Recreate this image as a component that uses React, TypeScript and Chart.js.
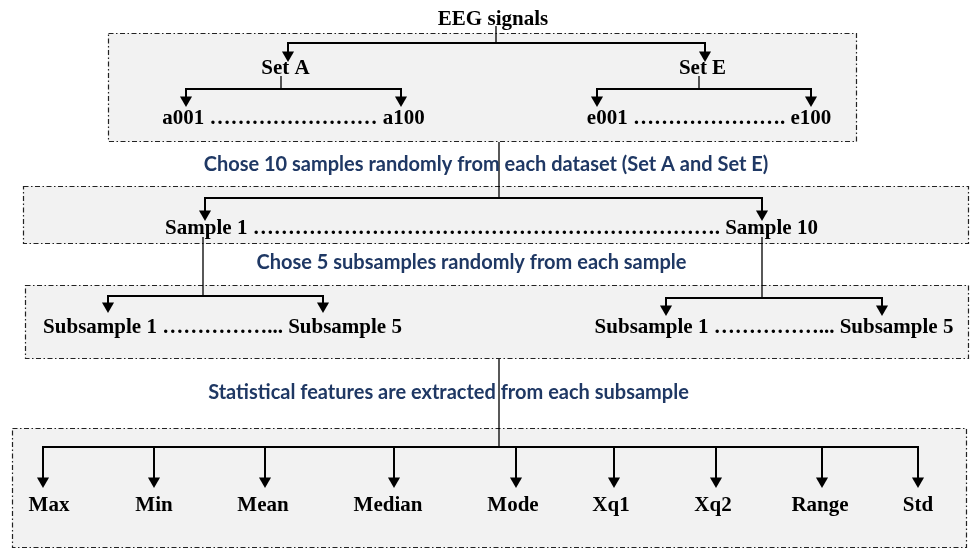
import { useEffect, useRef } from "react";
import { Chart, registerables } from "chart.js";

Chart.register(...registerables);

// ---------- text content ----------
const rootLabel = "EEG signals";
const setLabels = ["Set A", "Set E"];
const recordLabels = [
  "a001 \u2026\u2026\u2026\u2026\u2026\u2026\u2026\u2026 a100",
  "e001 \u2026\u2026\u2026\u2026\u2026\u2026\u2026. e100",
];
const sampleLabel =
  "Sample 1 \u2026\u2026\u2026\u2026\u2026\u2026\u2026\u2026\u2026\u2026\u2026\u2026\u2026\u2026\u2026\u2026\u2026\u2026\u2026\u2026\u2026\u2026. Sample 10";
const subsampleLabels = [
  "Subsample 1 \u2026\u2026\u2026\u2026\u2026... Subsample 5",
  "Subsample 1 \u2026\u2026\u2026\u2026\u2026... Subsample 5",
];
const featureLabels = ["Max", "Min", "Mean", "Median", "Mode", "Xq1", "Xq2", "Range", "Std"];
const stepCaptions = [
  "Chose 10 samples randomly from each dataset (Set A and Set E)",
  "Chose 5 subsamples randomly from each sample",
  "Statistical features are extracted from each subsample",
];

// ---------- layout (diagram coordinates, 1 unit = 1 px) ----------
const W = 970;
const H = 549;

// panels: [left, top, right, bottom]
const panelBoxes = [
  [108, 33, 857, 142],
  [23, 186, 969, 244],
  [25, 285, 969, 359],
  [12, 428, 967, 548],
];

// node label positions: [centerX, baselineY]
const rootPos = [493, 25];
const setPos = [[285.5, 74], [702.5, 74]];
const recordPos = [[293.5, 124], [709, 124]];
const samplePos = [491.5, 234];
const subsamplePos = [[222.5, 333], [774, 333]];
const featureLabelX = [49, 154, 263, 388, 513, 611, 713, 820, 918];
const featureBaseline = 511;
const captionPos = [[486, 171], [471.5, 269], [448.5, 399]];

// vertical trunks: [x, y1, y2]
const trunks = [
  [496, 26, 43],
  [281, 76, 89],
  [699, 76, 89],
  [499, 142, 198],
  [203, 237, 296],
  [762, 237, 298],
  [499, 359, 447],
];

// branches: horizontal bar y, arrow xs, arrow tip y
const branchY = [43, 89, 89, 198, 296, 298, 447];
const branchXs = [
  [288, 705],
  [186, 401],
  [597, 811],
  [205, 762],
  [108, 323],
  [666, 882],
  [43, 154, 265, 394, 516, 614, 716, 822, 918],
];
const branchTip = [62, 107, 107, 221, 313, 316, 488];

const ARROW_R = 7;
const NODE_FONT = 'bold 21px "Liberation Serif", "Times New Roman", serif';
const CAPTION_FONT = 'bold 20px Lato, "Noto Sans", sans-serif';
const CAPTION_COLOR = "#1F3864";

function buildDatasets() {
  const ds: any[] = [];
  const lineBase = {
    showLine: true,
    pointRadius: 0,
    pointHoverRadius: 0,
    borderColor: "#000",
    borderCapStyle: "butt",
    borderJoinStyle: "miter",
    fill: false,
  };
  trunks.forEach(([x, y1, y2]) => {
    ds.push({ ...lineBase, borderWidth: 1.3, data: [{ x, y: y1 }, { x, y: y2 }] });
  });
  const arrows: { x: number; y: number }[] = [];
  branchY.forEach((y, i) => {
    const xs = branchXs[i];
    const tip = branchTip[i];
    const minX = Math.min(...xs);
    const maxX = Math.max(...xs);
    ds.push({ ...lineBase, borderWidth: 2, data: [{ x: minX - 1, y }, { x: maxX + 1, y }] });
    xs.forEach((x) => {
      ds.push({ ...lineBase, borderWidth: 2, data: [{ x, y }, { x, y: tip - 6 }] });
      arrows.push({ x, y: tip - ARROW_R });
    });
  });
  ds.push({
    showLine: false,
    data: arrows,
    pointStyle: "triangle",
    rotation: 180,
    pointRadius: ARROW_R,
    pointHoverRadius: ARROW_R,
    backgroundColor: "#000",
    borderColor: "#000",
    borderWidth: 0,
  });
  return ds;
}

const panelPlugin = {
  id: "panels",
  beforeDatasetsDraw(chart: any) {
    const { ctx, scales } = chart;
    const sx = scales.x;
    const sy = scales.y;
    ctx.save();
    panelBoxes.forEach(([l, t, r, b]) => {
      const x1 = sx.getPixelForValue(l);
      const x2 = sx.getPixelForValue(r);
      const y1 = sy.getPixelForValue(t);
      const y2 = sy.getPixelForValue(b);
      ctx.fillStyle = "#F2F2F2";
      ctx.fillRect(x1, y1, x2 - x1, y2 - y1);
      ctx.setLineDash([5, 2.5, 1.5, 2.5]);
      ctx.lineWidth = 1.2;
      ctx.strokeStyle = "#222";
      ctx.strokeRect(x1 + 0.5, y1 + 0.5, x2 - x1 - 1, y2 - y1 - 1);
    });
    ctx.restore();
  },
};

const labelPlugin = {
  id: "labels",
  afterDatasetsDraw(chart: any) {
    const { ctx, scales } = chart;
    const sx = scales.x;
    const sy = scales.y;
    const put = (text: string, x: number, y: number, font: string, color: string) => {
      ctx.font = font;
      ctx.fillStyle = color;
      ctx.textAlign = "center";
      ctx.textBaseline = "alphabetic";
      ctx.fillText(text, sx.getPixelForValue(x), sy.getPixelForValue(y));
    };
    ctx.save();
    put(rootLabel, rootPos[0], rootPos[1], NODE_FONT, "#000");
    setLabels.forEach((t, i) => put(t, setPos[i][0], setPos[i][1], NODE_FONT, "#000"));
    recordLabels.forEach((t, i) => put(t, recordPos[i][0], recordPos[i][1], NODE_FONT, "#000"));
    put(sampleLabel, samplePos[0], samplePos[1], NODE_FONT, "#000");
    subsampleLabels.forEach((t, i) => put(t, subsamplePos[i][0], subsamplePos[i][1], NODE_FONT, "#000"));
    featureLabels.forEach((t, i) => put(t, featureLabelX[i], featureBaseline, NODE_FONT, "#000"));
    stepCaptions.forEach((t, i) => put(t, captionPos[i][0], captionPos[i][1], CAPTION_FONT, CAPTION_COLOR));
    ctx.restore();
  },
};

export default function App() {
  const ref = useRef<HTMLCanvasElement | null>(null);
  useEffect(() => {
    document.body.style.margin = "0";
    if (!ref.current) return;
    const chart = new Chart(ref.current, {
      type: "scatter",
      data: { datasets: buildDatasets() },
      options: {
        responsive: false,
        maintainAspectRatio: false,
        animation: false,
        devicePixelRatio: 1,
        events: [],
        layout: { padding: 0, autoPadding: false },
        scales: {
          x: { type: "linear", min: 0, max: W, display: false, offset: false },
          y: { type: "linear", min: 0, max: H, reverse: true, display: false, offset: false },
        },
        plugins: {
          legend: { display: false },
          tooltip: { enabled: false },
        },
      },
      plugins: [panelPlugin, labelPlugin],
    } as any);
    return () => chart.destroy();
  }, []);
  return (
    <div style={{ width: W, height: H, background: "#fff" }}>
      <canvas ref={ref} width={W} height={H} style={{ display: "block" }} />
    </div>
  );
}
